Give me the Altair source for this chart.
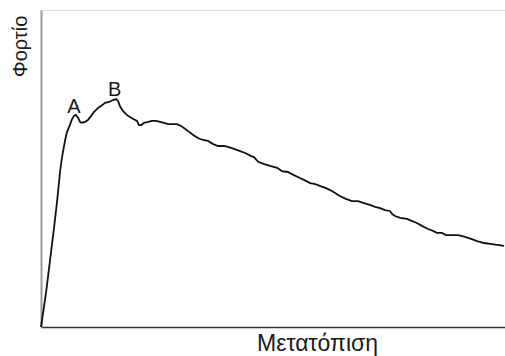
import altair as alt
import pandas as pd

# Displacement (x) and load (y), arbitrary units 0-100
displacement = [0, 1.1, 1.9, 2.8, 3.5, 4.1, 4.5, 5.2, 5.6, 6.3, 6.7, 7.1, 7.5, 8.0, 8.4, 8.8,
                9.5, 10.1, 10.8, 11.4, 12.3, 13.2, 13.8, 14.7, 15.5, 16.2, 16.6, 17.0, 17.7,
                18.5, 19.4, 20.3, 20.7, 21.1, 21.6, 22.2, 23.1, 23.9, 24.8, 25.7, 26.5, 27.4,
                28.2, 29.3, 30.2, 30.8, 31.7, 32.8, 33.8, 34.9, 36.0, 37.1, 38.2, 39.4, 40.3,
                41.6, 42.9, 44.0, 45.3, 45.9, 46.8, 48.1, 49.4, 50.9, 51.9, 53.2, 54.5, 55.8,
                57.1, 58.0, 59.1, 60.1, 61.4, 62.3, 63.4, 64.4, 65.7, 67.0, 68.3, 69.6, 70.9,
                72.0, 73.1, 74.1, 75.2, 75.7, 76.3, 77.4, 78.9, 80.0, 81.0, 82.1, 83.4, 84.5,
                85.3, 86.4, 87.3, 88.6, 89.9, 91.4, 92.7, 94.0, 95.5, 96.8, 98.3, 99.8]
load = [0, 11.0, 20.5, 31.2, 40.1, 48.9, 53.3, 59.0, 61.5, 64.0, 65.6, 66.6, 66.9, 66.0,
        64.7, 64.4, 64.7, 65.3, 66.6, 67.8, 69.1, 70.0, 70.7, 71.0, 71.6, 71.9, 71.3, 69.7,
        68.1, 66.9, 66.0, 65.3, 65.0, 63.7, 63.7, 64.4, 64.7, 65.0, 65.0, 64.7, 64.4, 64.0,
        64.0, 64.0, 63.4, 62.8, 61.8, 60.6, 59.6, 59.0, 58.7, 57.7, 57.1, 57.1, 56.8, 56.2,
        55.5, 54.9, 53.9, 53.6, 52.1, 51.4, 50.8, 50.2, 49.2, 48.9, 47.9, 47.0, 46.1, 45.4,
        45.1, 44.5, 43.8, 43.2, 42.3, 41.3, 40.4, 39.7, 39.7, 39.1, 38.5, 37.9, 37.5, 36.9,
        36.6, 35.6, 35.0, 34.4, 34.1, 33.4, 32.8, 31.9, 30.9, 30.3, 29.7, 29.7, 29.0, 29.0,
        29.0, 28.4, 27.8, 27.1, 26.5, 26.2, 25.9, 25.6]

label_text = ["A", "B"]
label_x = [7.1, 15.9]
label_y = [67.5, 72.9]

df = pd.DataFrame({"x": displacement, "y": load})
df_lab = pd.DataFrame({"t": label_text, "x": label_x, "y": label_y})

xs = alt.Scale(domain=[0, 100], nice=False, zero=False)
ys = alt.Scale(domain=[0, 100], nice=False, zero=False)

font = "Liberation Sans"

line = alt.Chart(df).mark_line(color="#111111", strokeWidth=1.8).encode(
    x=alt.X("x:Q", scale=xs, axis=alt.Axis(
        title="Μετατόπιση", labels=False, ticks=False, grid=False,
        domainColor="#333333", domainWidth=1.5,
        titleFont=font, titleFontSize=23, titleFontWeight="normal", titleColor="#1a1a1a",
        titleX=276, titleY=23, titleBaseline="alphabetic", titleAlign="center")),
    y=alt.Y("y:Q", scale=ys, axis=alt.Axis(
        title="Φορτίο", labels=False, ticks=False, grid=False,
        domainColor="#999999", domainWidth=2,
        titleFont=font, titleFontSize=20, titleFontWeight="normal", titleColor="#1a1a1a",
        titleX=-15, titleY=36, titleAngle=-90, titleBaseline="alphabetic", titleAlign="center")),
    order=alt.Order("x:Q"),
)

labels = alt.Chart(df_lab).mark_text(
    font=font, fontSize=20, color="#1a1a1a", baseline="alphabetic", align="center"
).encode(
    x=alt.X("x:Q", scale=xs),
    y=alt.Y("y:Q", scale=ys),
    text="t:N",
)

chart = alt.layer(line, labels).properties(
    width=464, height=317,
    autosize=alt.AutoSizeParams(type="none"),
    padding={"left": 41, "top": 10, "right": 0, "bottom": 29},
).configure_view(stroke=None).configure(background="white")

chart.save("out.html", embed_options={"renderer": "svg", "actions": False})
